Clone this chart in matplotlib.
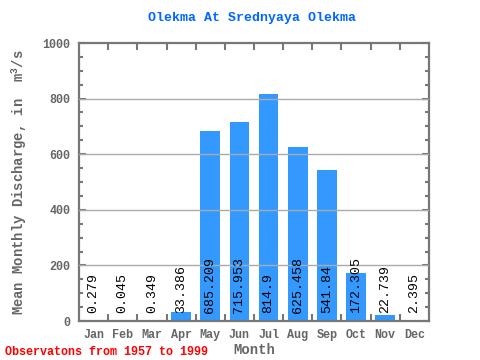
import matplotlib
matplotlib.use('Agg')
import matplotlib.pyplot as plt
import numpy as np
from matplotlib.ticker import MultipleLocator, FixedLocator

# Monthly means
months = ['Jan', 'Feb', 'Mar', 'Apr', 'May', 'Jun', 'Jul', 'Aug', 'Sep', 'Oct', 'Nov', 'Dec']
discharge = [0.279, 0.045, 0.349, 33.386, 685.209, 715.953, 814.9, 625.458, 541.84, 172.305, 22.739, 2.395]
labels = ['0.279', '0.045', '0.349', '33.386', '685.209', '715.953', '814.9', '625.458', '541.84', '172.305', '22.739', '2.395']

plt.rcParams['font.family'] = ['Liberation Mono', 'DejaVu Sans Mono']
plt.rcParams['mathtext.fontset'] = 'custom'
plt.rcParams['mathtext.rm'] = 'Liberation Mono:bold'
plt.rcParams['mathtext.default'] = 'rm'

AX_COL = '#777777'
LBL_COL = '#666666'

fig = plt.figure(figsize=(4.8, 3.6), dpi=100)
ax = fig.add_axes([79 / 480, 1 - 321 / 360, 350 / 480, 278 / 360])

x = np.arange(len(months))
ax.bar(x, discharge, width=0.68, color='#3399ff', zorder=2)

# gridlines on top of bars
for g in [200, 400, 600, 800]:
    ax.axhline(g, color='#aaaaaa', linewidth=1.0, zorder=3)

for xi, lab in zip(x, labels):
    ax.annotate(lab, (xi, 0), xytext=(0, 6), textcoords='offset points',
                rotation=90, ha='center', va='bottom', fontsize=9.5,
                color='black', zorder=4)

ax.set_xlim(-0.5, 11.5)
ax.set_ylim(0, 1000)

for s in ax.spines.values():
    s.set_color(AX_COL)
    s.set_linewidth(1.6)

ax.yaxis.set_major_locator(MultipleLocator(200))
ax.yaxis.set_minor_locator(MultipleLocator(50))
ax.xaxis.set_major_locator(FixedLocator(x))
ax.xaxis.set_minor_locator(FixedLocator(np.arange(0.5, 11.5, 1)))
ax.set_xticklabels(months)

ax.tick_params(axis='y', which='both', direction='in', left=True, right=True,
               color=AX_COL, width=1.5, labelsize=8.5, labelcolor=LBL_COL, pad=6)
ax.tick_params(axis='y', which='major', length=5)
ax.tick_params(axis='y', which='minor', length=3)
ax.tick_params(axis='x', which='major', length=0, labelsize=8.5,
               labelcolor=LBL_COL, pad=6)
ax.tick_params(axis='x', which='minor', direction='in', top=True, bottom=True,
               length=5, width=1.5, color=AX_COL)
for t in ax.get_xticklabels() + ax.get_yticklabels():
    t.set_fontweight('bold')

ax.set_xlabel('Month', fontsize=10, fontweight='bold', color=LBL_COL, labelpad=1)
ax.set_ylabel('Mean Monthly Discharge, in  m$^{3}$/s', fontsize=10,
              fontweight='bold', color=LBL_COL, labelpad=10)

fig.text(252 / 480, 1 - 18 / 360, 'Olekma At Srednyaya Olekma', ha='center',
         va='center', fontsize=9.5, fontweight='bold', color='#0066ff')
fig.text(5 / 480, 1 - 352 / 360, 'Observatons from 1957 to 1999', ha='left',
         va='center', fontsize=8.5, fontweight='bold', color='red')

fig.savefig('out.png', dpi=100)
